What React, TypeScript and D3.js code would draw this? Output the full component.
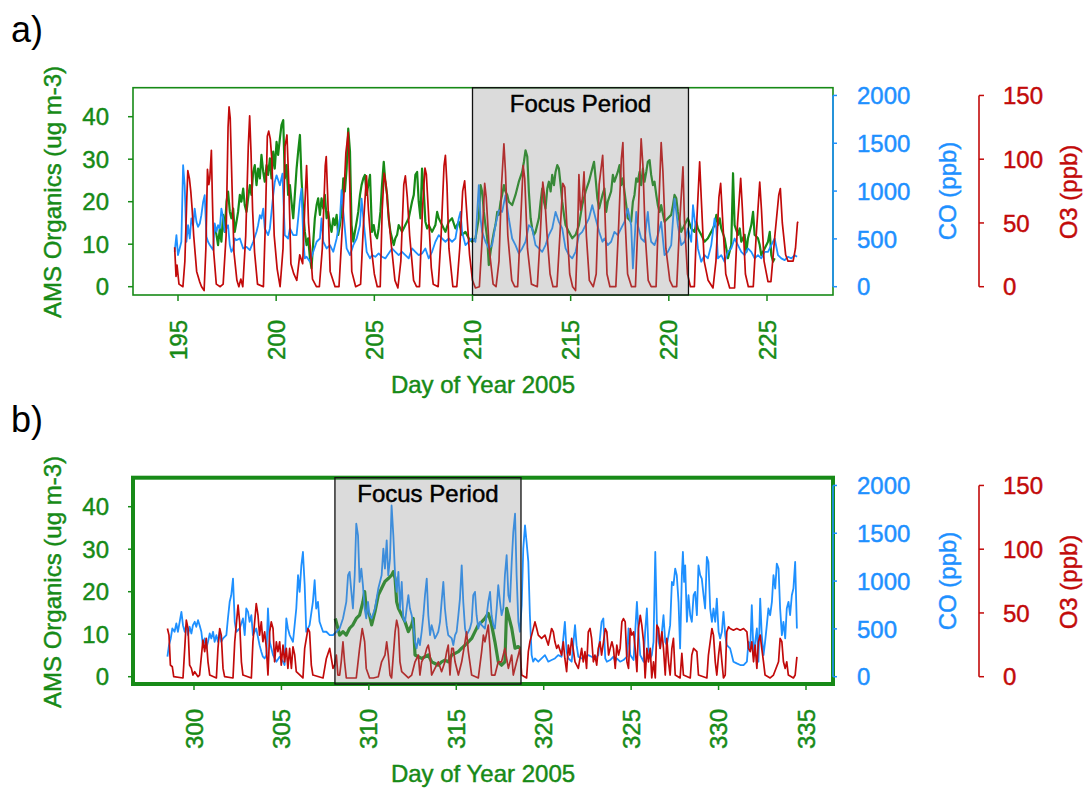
import React from "react";
import * as d3 from "d3";

type Pt = [number, number];

// ---- Summer campaign (panel a): day of year, value ----
const O3_SUMMER: Pt[] = [
  [194.83,31],[194.9,8],[194.95,17],[195.05,2],[195.25,0],[195.35,20],[195.45,70],[195.5,91],[195.58,85],[195.65,75],[195.72,61],[195.8,40],[195.95,12],[196.1,4],[196.2,0],[196.33,-3],[196.42,30],[196.5,92],[196.57,80],[196.62,85],[196.7,107],[196.75,70],[196.82,27],[196.95,2],[197.15,0],[197.3,2],[197.45,40],[197.55,125],[197.6,141],[197.66,132],[197.75,80],[197.85,27],[198.0,5],[198.1,0],[198.2,6],[198.3,0],[198.45,40],[198.58,110],[198.65,134],[198.72,105],[198.8,60],[198.9,27],[199.05,2],[199.35,0],[199.45,50],[199.55,118],[199.62,122],[199.7,116],[199.78,100],[199.9,40],[200.05,14],[200.2,0],[200.35,30],[200.45,110],[200.55,119],[200.65,78],[200.75,18],[200.9,10],[201.05,5],[201.2,25],[201.35,18],[201.45,60],[201.55,95],[201.65,50],[201.85,6],[202.05,0],[202.2,0],[202.35,30],[202.5,95],[202.55,102],[202.65,60],[202.75,12],[203.0,0],[203.2,0],[203.4,55],[203.55,105],[203.67,121],[203.75,80],[203.85,12],[204.05,0],[204.3,2],[204.45,50],[204.6,87],[204.7,60],[204.85,30],[205.0,10],[205.15,0],[205.3,0],[205.4,60],[205.5,89],[205.6,80],[205.7,60],[205.85,35],[206.05,5],[206.2,-1],[206.35,20],[206.5,80],[206.58,87],[206.68,70],[206.8,40],[207.0,5],[207.15,0],[207.3,0],[207.45,60],[207.58,93],[207.65,88],[207.75,60],[207.9,15],[208.0,2],[208.25,0],[208.4,40],[208.55,95],[208.62,103],[208.7,80],[208.8,30],[209.0,0],[209.2,0],[209.35,30],[209.5,75],[209.6,83],[209.7,60],[209.85,25],[210.0,5],[210.15,-1],[210.35,0],[210.5,40],[210.62,81],[210.7,70],[210.85,30],[211.05,2],[211.2,0],[211.35,20],[211.48,80],[211.6,112],[211.68,90],[211.8,40],[212.0,5],[212.15,0],[212.3,0],[212.45,50],[212.58,95],[212.66,85],[212.8,30],[213.0,2],[213.3,0],[213.45,40],[213.58,82],[213.68,70],[213.8,40],[213.95,10],[214.1,0],[214.3,0],[214.45,40],[214.6,81],[214.7,78],[214.8,50],[214.95,10],[215.1,0],[215.25,-3],[215.35,40],[215.42,88],[215.5,60],[215.6,70],[215.68,90],[215.8,40],[215.95,5],[216.15,0],[216.3,10],[216.45,80],[216.63,103],[216.72,70],[216.85,10],[217.0,0],[217.3,0],[217.45,50],[217.58,100],[217.66,113],[217.75,60],[217.9,10],[218.1,0],[218.3,0],[218.45,60],[218.59,116],[218.68,95],[218.8,40],[218.95,5],[219.1,0],[219.35,0],[219.48,60],[219.61,113],[219.7,90],[219.85,30],[220.05,5],[220.2,0],[220.4,0],[220.55,50],[220.72,94],[220.8,50],[220.95,10],[221.1,0],[221.3,0],[221.42,50],[221.57,98],[221.65,70],[221.8,20],[222.0,5],[222.25,-1],[222.4,20],[222.55,70],[222.64,81],[222.75,50],[222.9,10],[223.1,-1],[223.35,-1],[223.5,50],[223.66,85],[223.75,60],[223.9,10],[224.05,0],[224.3,0],[224.45,40],[224.63,82],[224.72,60],[224.85,20],[225.05,4],[225.2,4],[225.4,40],[225.6,72],[225.68,77],[225.78,50],[225.95,25],[226.07,20],[226.33,20],[226.45,30],[226.55,50],[226.58,51]
];

const CO_SUMMER: Pt[] = [
  [194.83,365],[194.92,539],[195.0,330],[195.17,470],[195.26,1270],[195.34,1060],[195.43,470],[195.51,643],[195.6,504],[195.68,713],[195.77,643],[195.85,817],[195.94,678],[196.02,626],[196.11,661],[196.19,748],[196.28,887],[196.36,957],[196.45,522],[196.53,470],[196.62,435],[196.79,383],[196.87,661],[196.96,574],[197.04,643],[197.13,609],[197.21,817],[197.3,713],[197.38,574],[197.55,643],[197.64,435],[197.72,365],[197.81,400],[197.89,504],[197.98,487],[198.15,504],[198.32,400],[198.49,417],[198.66,383],[198.83,470],[199.0,574],[199.08,643],[199.17,748],[199.25,713],[199.34,817],[199.42,609],[199.51,574],[199.59,539],[199.68,609],[199.85,957],[199.93,1096],[200.02,1165],[200.19,1061],[200.32,1183],[200.44,539],[200.61,504],[200.7,609],[200.87,539],[201.04,539],[201.21,904],[201.29,1026],[201.38,504],[201.46,296],[201.55,313],[201.72,261],[201.89,365],[202.06,470],[202.23,504],[202.31,713],[202.4,470],[202.57,400],[202.74,435],[202.91,365],[203.08,504],[203.25,713],[203.33,1009],[203.42,783],[203.59,400],[203.76,330],[203.93,435],[204.1,504],[204.27,643],[204.35,922],[204.44,713],[204.61,365],[204.78,296],
  [204.88,330],[205.05,313],[205.22,348],[205.39,313],[205.56,296],[205.73,348],[205.9,400],[206.07,365],[206.24,330],[206.41,365],[206.58,330],[206.75,296],[206.92,400],[207.09,365],[207.26,330],[207.43,348],[207.6,400],[207.77,296],[207.94,365],[208.11,470],[208.28,539],[208.45,504],[208.62,470],[208.79,504],[208.96,470],[209.13,504],[209.3,713],[209.39,783],[209.47,574],[209.64,435],[209.81,470],[209.98,504],[210.15,470],[210.32,1061],[210.41,713],[210.49,574],[210.66,470],[210.83,400],[211.0,435],[211.17,643],[211.34,800],[211.51,783],[211.68,957],[211.85,713],[212.02,504],[212.19,435],[212.36,348],[212.53,400],[212.7,470],[212.87,643],[213.04,609],[213.21,435],[213.38,400],[213.55,365],[213.72,435],[213.89,539],[214.06,609],[214.23,783],[214.4,678],[214.57,609],[214.74,400],[214.91,330],[215.08,296],[215.25,365],[215.42,539],[215.59,574],[215.76,643],[215.93,713],[216.1,852],[216.27,713],[216.45,574],[216.62,470],
  [216.72,504],[216.89,435],[217.06,470],[217.23,574],[217.4,539],[217.57,609],[217.74,678],[217.91,817],[218.08,643],[218.17,191],[218.25,470],[218.34,783],[218.42,643],[218.59,504],[218.76,470],[218.85,643],[218.93,783],[219.02,574],[219.1,470],[219.27,435],[219.44,539],[219.61,678],[219.78,330],[219.95,365],[220.12,435],[220.29,922],[220.38,783],[220.46,643],[220.63,435],[220.8,470],[220.97,609],[221.14,470],[221.23,852],[221.31,713],[221.4,574],[221.48,400],[221.65,261],[221.82,330],[221.99,296],[222.16,435],[222.33,713],[222.42,609],[222.5,296],[222.67,330],[222.84,261],[223.01,365],[223.18,400],[223.35,504],[223.52,435],[223.69,365],[223.86,330],[224.03,400],[224.2,365],[224.37,296],[224.54,330],[224.71,296],[224.88,365],[225.05,365],[225.22,435],[225.39,504],[225.56,330],[225.73,296],[225.9,278],[226.07,313],[226.24,296],[226.41,330],[226.53,313]
];

const ORG_SUMMER: Pt[] = [
  [196.87,14.5],[196.96,12.2],[197.04,9.8],[197.13,13.7],[197.21,10.6],[197.3,16.9],[197.38,12.9],[197.47,20.0],[197.55,22.4],[197.64,17.6],[197.72,16.1],[197.81,18.4],[197.89,12.9],[197.98,15.3],[198.06,17.6],[198.15,21.6],[198.23,20.0],[198.32,23.1],[198.4,19.2],[198.49,17.6],[198.57,20.8],[198.66,23.9],[198.74,21.6],[198.83,27.0],[198.91,28.6],[199.0,23.9],[199.08,27.8],[199.17,25.5],[199.25,31.0],[199.34,27.0],[199.42,24.7],[199.51,28.6],[199.59,26.3],[199.68,30.2],[199.76,25.5],[199.85,31.8],[199.93,27.8],[200.02,34.1],[200.1,31.0],[200.19,34.9],[200.27,38.0],[200.36,39.2],[200.44,25.5],[200.53,28.6],[200.61,21.6],[200.7,23.9],[200.78,20.0],[200.87,16.1],[200.95,21.6],[201.04,27.8],[201.12,31.8],[201.21,35.7],[201.29,25.5],[201.38,17.6],[201.46,12.9],[201.55,9.8],[201.63,11.4],[201.72,6.7],[201.8,4.3],[201.89,10.6],[201.97,16.1],[202.06,19.2],[202.14,20.8],[202.23,16.9],[202.31,20.8],[202.4,18.4],[202.48,21.6],[202.57,16.1],[202.65,17.6],[202.74,14.5],[202.82,12.9],[202.91,16.1],[202.99,14.5],[203.08,16.9],[203.16,12.2],[203.25,14.5],[203.33,17.6],[203.42,25.5],[203.5,22.4],[203.59,27.8],[203.67,37.2],[203.76,31.8],[203.84,14.5],[203.93,10.6],[204.01,12.9],[204.1,15.3],[204.18,17.6],[204.27,21.6],[204.35,23.9],[204.44,25.5],[204.52,26.3],[204.61,21.6],[204.69,23.9],[204.78,26.3],
  [204.88,12.9],[204.97,14.5],[205.05,12.2],[205.14,11.4],[205.22,13.7],[205.31,17.6],[205.39,23.9],[205.48,29.4],[205.56,24.7],[205.65,21.6],[205.73,16.1],[205.82,12.9],[205.9,11.4],[205.99,9.8],[206.07,11.4],[206.16,12.2],[206.24,14.5],[206.41,12.9],[206.58,14.5],[206.75,16.1],[206.92,20.0],[207.01,21.6],[207.09,26.3],[207.18,27.0],[207.26,20.0],[207.35,16.1],[207.43,27.8],[207.52,22.4],[207.6,15.3],[207.69,13.7],[207.77,14.5],[207.94,12.9],[208.11,14.5],[208.2,17.6],[208.28,16.1],[208.45,14.5],[208.62,12.9],[208.79,15.3],[208.96,16.1],[209.13,13.7],[209.3,15.3],[209.47,12.2],[209.64,12.9],[209.81,11.4],[209.98,10.6],[210.15,11.4],[210.32,16.1],[210.41,23.9],[210.49,22.4],[210.58,17.6],[210.66,14.5],[210.75,11.4],[210.83,5.1],[210.92,8.2],[211.0,10.6],[211.09,12.9],[211.17,14.5],[211.26,17.6],[211.34,16.9],[211.43,20.0],[211.51,21.6],[211.6,23.9],[211.68,22.4],[211.77,21.6],[211.85,20.0],[212.02,19.2],[212.19,21.6],[212.36,24.7],[212.53,27.0],[212.62,29.4],[212.7,32.1],[212.79,30.6],[212.87,22.4],[212.96,16.1],[213.04,13.7],[213.13,12.2],[213.21,12.9],[213.38,16.1],[213.47,20.0],[213.55,23.1],[213.64,20.0],[213.72,18.4],[213.81,23.1],[213.89,24.7],[213.98,22.4],[214.06,26.3],[214.15,23.9],[214.23,27.0],[214.32,28.6],[214.4,27.8],[214.49,23.9],[214.57,20.0],[214.66,16.9],[214.74,14.5],[214.91,12.9],[215.08,11.4],[215.25,12.2],[215.42,14.5],[215.59,19.2],[215.76,22.4],[215.93,24.7],[216.1,27.8],[216.19,29.4],[216.27,25.5],[216.36,20.8],[216.45,18.4],[216.62,21.6],
  [216.72,23.1],[216.81,17.6],[216.89,20.0],[217.06,22.4],[217.15,26.3],[217.23,24.7],[217.4,27.0],[217.49,28.6],[217.57,23.9],[217.66,25.5],[217.74,22.4],[217.83,19.2],[217.91,16.1],[218.08,15.3],[218.17,20.0],[218.25,21.6],[218.34,25.5],[218.42,24.7],[218.51,27.0],[218.59,23.9],[218.68,27.8],[218.76,24.7],[218.85,27.0],[218.93,29.4],[219.02,29.8],[219.1,26.3],[219.19,23.9],[219.27,24.7],[219.36,21.6],[219.44,19.2],[219.53,17.6],[219.61,19.2],[219.78,15.3],[219.95,16.1],[220.12,16.9],[220.21,19.2],[220.29,21.6],[220.38,20.8],[220.46,17.6],[220.63,12.9],[220.8,14.5],[220.97,16.1],[221.14,13.7],[221.31,12.9],[221.4,15.2],[221.48,13.7],[221.65,12.2],[221.82,10.6],[221.99,11.4],[222.16,12.9],[222.33,14.5],[222.42,16.9],[222.5,14.5],[222.59,16.1],[222.67,13.7],[222.84,11.4],[223.01,6.7],[223.18,9.8],[223.27,26.7],[223.35,14.5],[223.52,12.2],[223.61,13.7],[223.69,10.6],[223.86,12.2],[223.95,8.2],[224.03,11.4],[224.2,14.5],[224.29,17.6],[224.37,12.2],[224.54,11.4],[224.63,9.8],[224.71,7.4],[224.88,9.0],[225.05,10.6],[225.14,12.9],[225.22,7.4],[225.31,5.9],[225.39,6.7]
];

// ---- Autumn campaign (panel b) ----
const O3_AUTUMN: Pt[] = [
  [298.48,37.8],[298.57,32.6],[298.65,9.1],[298.76,7.8],[298.84,0],[299.37,-1],[299.47,22.2],[299.56,44.3],[299.66,37.8],[299.75,9.1],[299.85,6.5],[299.94,1.3],[300.04,3.9],[300.23,0],[300.32,1.3],[300.51,28.7],[300.61,19.6],[300.7,30.0],[300.8,11.7],[300.9,1.3],[301.28,-1],[301.37,22.2],[301.47,37.8],[301.56,32.6],[301.66,6.5],[301.75,0],[302.23,-1],[302.33,27.4],[302.52,56.1],[302.61,43.0],[302.71,11.7],[302.8,1.3],[303.28,-1],[303.37,27.4],[303.56,57.4],[303.66,48.2],[303.75,32.6],[303.85,43.0],[303.94,27.4],[304.04,35.2],[304.14,22.2],[304.23,1.3],[304.33,35.2],[304.42,43.0],[304.52,37.8],[304.61,11.7],[304.71,27.4],[304.8,19.6],[304.9,27.4],[304.99,9.1],[305.09,24.8],[305.18,11.7],[305.28,22.2],[305.37,6.5],[305.47,22.2],[305.57,6.5],[305.66,23.5],[305.76,17.0],[305.85,3.9],[306.23,-1],[306.33,22.2],[306.52,37.8],[306.61,35.2],[306.71,9.1],[306.8,1.3],[307.38,-1],[307.57,14.3],[307.76,22.2],[307.95,6.5],[308.04,9.1],[308.14,17.0],[308.23,1.3],[308.33,1.3],[308.42,11.7],[308.52,27.4],[308.61,11.7],[308.71,-1],[309.28,-1],[309.47,22.2],[309.62,37.8],[309.76,27.4],[309.85,6.5],[310.04,-1],
  [310.26,-1],[310.54,0],[310.73,11.7],[310.92,17.0],[311.02,27.4],[311.11,17.0],[311.21,1.3],[311.3,-1],[311.5,35.2],[311.59,44.3],[311.69,37.8],[311.78,11.7],[311.88,3.9],[312.26,-1],[312.45,1.3],[312.64,11.7],[312.83,17.0],[312.92,1.3],[313.02,11.7],[313.21,17.0],[313.31,22.2],[313.4,24.8],[313.5,17.0],[313.59,1.3],[313.78,6.5],[313.97,11.7],[314.16,3.9],[314.35,11.7],[314.45,19.6],[314.54,24.8],[314.64,1.3],[314.74,22.2],[314.83,22.2],[314.93,11.7],[315.12,1.3],[315.31,11.7],[315.5,27.4],[315.59,35.2],[315.69,19.6],[315.88,1.3],[316.26,-1],[316.45,19.6],[316.55,32.6],[316.64,27.4],[316.83,40.4],[316.93,22.2],[317.02,1.3],[317.21,1.3],[317.4,11.7],[317.59,11.7],[317.78,22.2],[317.98,6.5],[318.17,17.0],[318.26,1.3],[318.45,11.7],[318.55,17.0],[318.64,22.2],[318.74,1.3],[319.02,-1],[319.12,19.6],[319.21,27.4],[319.31,32.6],[319.5,43.0],[319.6,37.8],[319.69,32.6],[319.88,30.0],[320.07,32.6],[320.26,24.8],[320.45,37.8],[320.55,35.2],[320.64,27.4],[320.74,22.2],[320.83,24.8],[321.02,17.0],[321.12,27.4],[321.21,14.3],[321.31,3.9],[321.41,24.8],[321.5,17.0],[321.6,30.0],[321.79,11.7],[321.98,6.5],[322.17,22.2],[322.26,11.7],[322.36,19.6],[322.45,6.5],[322.55,35.2],[322.65,37.8],[322.74,30.0],[322.84,11.7],[322.93,17.0],[323.03,9.1],[323.12,22.2],[323.22,27.4],[323.31,17.0],
  [323.42,27.4],[323.52,37.8],[323.61,35.2],[323.71,17.0],[323.8,22.2],[323.9,27.4],[323.99,22.2],[324.09,6.5],[324.18,24.8],[324.28,17.0],[324.37,22.2],[324.47,43.0],[324.56,45.6],[324.66,43.0],[324.76,11.7],[324.85,6.5],[324.95,37.8],[325.04,32.6],[325.14,35.2],[325.23,22.2],[325.33,3.9],[325.42,37.8],[325.52,48.2],[325.61,40.4],[325.71,27.4],[325.8,-1],[325.9,22.2],[325.99,11.7],[326.09,22.2],[326.18,-1],[326.28,11.7],[326.38,-1],[326.47,40.4],[326.57,37.8],[326.66,22.2],[326.76,35.2],[326.85,22.2],[326.95,1.3],[327.04,30.0],[327.14,11.7],[327.23,1.3],[327.33,22.2],[327.42,30.0],[327.52,1.3],[327.8,-1],[327.9,18.3],[327.99,1.3],[328.38,-1],[328.47,17.0],[328.57,22.2],[328.76,19.6],[328.85,1.3],[329.33,-1],[329.42,17.0],[329.62,37.8],[329.71,32.6],[329.81,11.7],[329.9,1.3],[330.0,17.0],[330.09,27.4],[330.19,11.7],[330.28,-1],[330.38,1.3],[330.47,35.2],[330.57,39.1],[330.66,37.8],[330.85,36.5],[331.04,37.8],[331.24,36.5],[331.43,37.8],[331.62,35.2],[331.71,22.2],[331.81,19.6],[331.9,27.4],[332.0,11.7],[332.09,24.8],[332.19,6.5],[332.28,27.4],[332.38,32.6],[332.47,22.2],[332.57,11.7],[332.66,1.3],[332.95,-1],[333.14,1.3],[333.43,11.7],[333.52,30.0],[333.62,27.4],[333.71,11.7],[333.81,6.5],[333.9,11.7],[333.99,1.3],[334.28,-1],[334.38,1.3],[334.48,15.6]
];

const CO_AUTUMN: Pt[] = [
  [298.48,209],[298.57,330],[298.67,400],[298.76,504],[298.89,470],[298.99,557],[299.08,470],[299.18,574],[299.28,678],[299.37,539],[299.47,470],[299.56,539],[299.66,435],[299.75,522],[299.85,452],[299.94,539],[300.04,574],[300.13,522],[300.23,591],[300.32,539],[300.42,470],[300.51,330],[300.61,400],[300.7,296],[300.8,365],[300.9,452],[300.99,400],[301.09,470],[301.18,365],[301.28,435],[301.37,365],[301.47,470],[301.56,365],[301.66,400],[301.85,435],[301.94,609],[302.04,783],[302.13,852],[302.23,1026],[302.33,574],[302.42,470],[302.61,504],[302.8,609],[302.9,435],[302.99,713],[303.09,678],[303.18,574],[303.28,643],[303.37,435],[303.56,504],[303.75,330],[303.85,261],[303.94,209],[304.04,191],[304.14,226],[304.23,713],[304.33,365],[304.52,226],[304.71,157],[304.9,209],[305.09,157],[305.18,122],[305.28,609],[305.37,504],[305.47,435],[305.66,365],[305.85,713],[305.95,1061],[306.04,887],[306.14,1165],[306.23,1304],[306.33,957],[306.42,470],[306.61,539],[306.8,783],[306.9,1009],[306.99,713],[307.09,783],[307.18,574],[307.38,470],[307.57,470],[307.76,435],[307.95,435],[308.14,470],[308.33,504],[308.52,609],[308.71,783],[308.81,1061],[308.9,1096],[309.0,887],[309.09,713],[309.19,1061],[309.28,1600],[309.38,1478],[309.47,991],[309.57,1130],[309.66,957],[309.76,713],[309.85,609],[309.95,783],[310.04,643],
  [310.16,609],[310.35,713],[310.54,922],[310.73,1061],[310.83,1339],[310.92,1130],[311.02,1426],[311.11,1061],[311.21,1235],[311.3,1791],[311.4,1478],[311.5,1061],[311.59,887],[311.69,1096],[311.78,713],[311.88,991],[311.97,609],[312.07,574],[312.16,713],[312.26,852],[312.35,713],[312.45,643],[312.54,539],[312.64,365],[312.73,296],[312.83,400],[312.92,330],[313.02,470],[313.12,643],[313.21,852],[313.31,1026],[313.4,643],[313.5,435],[313.59,539],[313.69,470],[313.78,400],[313.88,435],[313.97,470],[314.07,574],[314.16,783],[314.26,991],[314.35,713],[314.45,539],[314.54,435],[314.74,400],[314.83,330],[314.93,435],[315.02,470],[315.12,643],[315.21,817],[315.31,1165],[315.4,783],[315.5,504],[315.59,435],[315.69,470],[315.78,504],[315.88,574],[315.97,852],[316.07,887],[316.16,643],[316.26,504],[316.36,574],[316.45,539],[316.64,504],[316.74,643],[316.83,783],[316.93,887],[317.02,643],[317.12,539],[317.21,504],[317.31,713],[317.4,957],[317.5,783],[317.59,643],[317.69,713],[317.78,1061],[317.88,1270],[317.98,852],[318.07,783],[318.17,1200],[318.26,1513],[318.36,1704],[318.45,1061],[318.55,574],[318.64,470],[318.74,748],[318.83,1339],[318.93,1583],[319.02,1409],[319.12,1200],[319.21,643],[319.31,226],[319.4,157],[319.5,191],[319.69,157],[319.88,191],[320.07,226],[320.26,157],[320.45,174],[320.64,191],[320.83,226],[321.02,209],[321.21,574],[321.31,261],[321.41,191],[321.6,157],[321.79,539],[321.88,330],[321.98,209],[322.17,191],[322.36,209],[322.55,226],[322.74,209],[322.93,191],[323.12,226],[323.31,574],[323.41,609],
  [323.52,191],[323.61,157],[323.8,174],[323.99,209],[324.09,157],[324.18,191],[324.37,157],[324.56,174],[324.76,209],[324.85,504],[324.95,226],[325.14,174],[325.33,783],[325.42,470],[325.52,226],[325.71,157],[325.8,470],[325.9,713],[325.99,296],[326.09,191],[326.18,226],[326.28,365],[326.38,1304],[326.47,574],[326.57,365],[326.66,296],[326.76,470],[326.85,643],[326.95,365],[327.04,330],[327.14,435],[327.23,539],[327.33,991],[327.42,957],[327.52,1130],[327.61,1061],[327.71,783],[327.8,296],[327.9,1061],[327.96,1304],[328.03,991],[328.09,1165],[328.19,574],[328.28,852],[328.38,643],[328.47,574],[328.57,852],[328.66,887],[328.76,643],[328.85,1165],[328.95,1061],[329.04,1026],[329.14,852],[329.23,713],[329.33,1252],[329.42,1200],[329.52,713],[329.62,574],[329.71,713],[329.81,574],[329.9,817],[330.0,470],[330.09,400],[330.19,470],[330.28,678],[330.38,435],[330.47,330],[330.66,296],[330.85,157],[331.04,139],[331.24,122],[331.43,122],[331.62,157],[331.71,365],[331.81,296],[331.9,748],[332.0,226],[332.19,504],[332.28,157],[332.38,817],[332.47,435],[332.57,226],[332.66,365],[332.76,539],[332.85,713],[332.95,643],[333.05,783],[333.14,1061],[333.24,922],[333.33,1183],[333.43,1130],[333.52,713],[333.62,435],[333.71,574],[333.81,400],[333.9,713],[334.0,783],[334.09,643],[334.19,852],[334.28,922],[334.38,1200],[334.48,504]
];

const ORG_AUTUMN: Pt[] = [
  [308.08,13.7],[308.23,11.4],[308.33,9.8],[308.52,10.6],[308.71,9.8],[308.9,11.4],[309.09,12.2],[309.28,13.7],[309.47,14.5],[309.66,17.6],[309.76,20.0],[309.85,16.1],[310.04,14.5],[310.16,12.2],[310.35,15.3],[310.54,19.2],[310.73,20.8],[310.92,22.4],[311.11,23.1],[311.3,23.9],[311.4,24.7],[311.5,23.1],[311.59,17.6],[311.69,16.1],[311.88,14.5],[312.07,12.9],[312.26,10.6],[312.45,12.2],[312.54,13.7],[312.64,5.1],[312.83,4.7],[313.02,4.3],[313.21,4.7],[313.4,5.1],[313.59,3.5],[313.78,3.1],[313.97,2.7],[314.16,3.5],[314.35,3.9],[314.54,3.5],[314.74,5.1],[314.93,5.5],[315.12,5.9],[315.31,6.7],[315.5,7.4],[315.69,8.2],[315.88,9.0],[316.07,10.6],[316.26,12.2],[316.45,12.9],[316.64,13.7],[316.83,14.9],[317.02,12.2],[317.21,8.2],[317.4,3.5],[317.59,2.7],[317.78,3.5],[317.88,16.1],[317.98,14.5],[318.17,11.4],[318.36,6.7],[318.55,7.1],[318.64,6.7]
];

// ---- Axes ----
const X_TICKS_SUMMER = [195, 200, 205, 210, 215, 220, 225];
const X_TICKS_AUTUMN = [300, 305, 310, 315, 320, 325, 330, 335];
const ORG_TICKS = [0, 10, 20, 30, 40];
const CO_TICKS = [0, 500, 1000, 1500, 2000];
const O3_TICKS = [0, 50, 100, 150];
const FOCUS_SUMMER: [number, number] = [210, 221];
const FOCUS_AUTUMN: [number, number] = [308.06, 318.7];

const FONT = "'Liberation Sans', Arial, Helvetica, sans-serif";
const GREEN = "#178a17";
const BLUE = "#1e90ff";
const RED = "#c20a0a";

interface PanelProps {
  tag: string;
  offset: number;
  frameBottom: number;
  frameWidth: number;
  xDomain: [number, number];
  xRange: [number, number];
  xTicks: number[];
  focus: [number, number];
  org: Pt[];
  co: Pt[];
  o3: Pt[];
  orgWidth: number;
}

// Text with a hairline outline in its own colour, for slightly heavier glyphs.
function Label(props: React.SVGProps<SVGTextElement> & { color: string }) {
  const { color, ...rest } = props;
  return <text fill={color} stroke={color} strokeWidth={0.45} {...rest} />;
}

function Panel(p: PanelProps) {
  const left = 133;
  const right = 833;
  const top = 87.7 + p.offset;
  const bottom = p.frameBottom;
  const x = d3.scaleLinear().domain(p.xDomain).range(p.xRange);
  const yRange = [286.7 + p.offset, 95.45 + p.offset];
  const yOrg = d3.scaleLinear().domain([0, 45]).range(yRange);
  const yCO = d3.scaleLinear().domain([0, 2000]).range(yRange);
  const yO3 = d3.scaleLinear().domain([0, 150]).range(yRange);
  const path = (s: d3.ScaleLinear<number, number>) =>
    d3.line<Pt>().x((d) => x(d[0])).y((d) => s(d[1]));
  const fx0 = x(p.focus[0]);
  const fx1 = x(p.focus[1]);
  const fs = 24;

  return (
    <g fontFamily={FONT}>
      <text x={11} y={42 + p.offset} fontSize={36} fill="#000">{p.tag}</text>

      {/* series */}
      <path d={path(yOrg)(p.org) ?? ""} fill="none" stroke={GREEN} strokeWidth={p.orgWidth} strokeLinejoin="round" />
      <path d={path(yCO)(p.co) ?? ""} fill="none" stroke={BLUE} strokeWidth={1.8} strokeLinejoin="round" />
      <path d={path(yO3)(p.o3) ?? ""} fill="none" stroke={RED} strokeWidth={1.7} strokeLinejoin="round" />

      {/* plot frame */}
      <rect x={left} y={top} width={right - left} height={bottom - top} fill="none" stroke={GREEN} strokeWidth={p.frameWidth} />

      {/* focus period */}
      <rect x={fx0} y={top} width={fx1 - fx0} height={bottom - top} fill="#888" fillOpacity={0.3} stroke="none" />
      <rect x={fx0} y={top} width={fx1 - fx0} height={bottom - top} fill="none" stroke="#111" strokeWidth={1.3} />
      <Label color="#000" x={(fx0 + fx1) / 2} y={112 + p.offset} fontSize={fs} textAnchor="middle">Focus Period</Label>

      {/* left axis: organics */}
      {ORG_TICKS.map((t) => (
        <g key={"o" + t}>
          <line x1={left - 5} x2={left} y1={yOrg(t)} y2={yOrg(t)} stroke={GREEN} strokeWidth={1.5} />
          <Label color={GREEN} x={109} y={yOrg(t)} dy="0.36em" fontSize={fs} textAnchor="end">{t}</Label>
        </g>
      ))}
      <Label color={GREEN} transform={`translate(52.5,${192 + p.offset}) rotate(-90)`} dy="0.36em" fontSize={fs} textAnchor="middle">AMS Organics (ug m-3)</Label>

      {/* right axis: CO */}
      <line x1={right} x2={right} y1={yCO(0)} y2={yCO(2000)} stroke={BLUE} strokeWidth={1.6} />
      {CO_TICKS.map((t) => (
        <g key={"c" + t}>
          <line x1={right} x2={right + 4} y1={yCO(t)} y2={yCO(t)} stroke={BLUE} strokeWidth={1.5} />
          <Label color={BLUE} x={857} y={yCO(t)} dy="0.36em" fontSize={fs} textAnchor="start">{t}</Label>
        </g>
      ))}
      <Label color={BLUE} transform={`translate(947,${191 + p.offset}) rotate(-90)`} dy="0.36em" fontSize={fs} textAnchor="middle">CO (ppb)</Label>

      {/* outer right axis: O3 */}
      <line x1={979} x2={979} y1={yO3(0)} y2={yO3(150)} stroke={RED} strokeWidth={1.6} />
      {O3_TICKS.map((t) => (
        <g key={"r" + t}>
          <line x1={979} x2={984} y1={yO3(t)} y2={yO3(t)} stroke={RED} strokeWidth={1.5} />
          <Label color={RED} x={1003} y={yO3(t)} dy="0.36em" fontSize={fs} textAnchor="start">{t}</Label>
        </g>
      ))}
      <Label color={RED} transform={`translate(1068,${192 + p.offset}) rotate(-90)`} dy="0.36em" fontSize={fs} textAnchor="middle">O3 (ppb)</Label>

      {/* bottom axis: day of year */}
      {p.xTicks.map((t) => (
        <g key={"x" + t}>
          <line x1={x(t)} x2={x(t)} y1={bottom} y2={bottom + 6} stroke={GREEN} strokeWidth={1.5} />
          <Label color={GREEN} transform={`translate(${x(t)},${bottom + 25}) rotate(-90)`} dy="0.36em" fontSize={fs} textAnchor="end">{t}</Label>
        </g>
      ))}
      <Label color={GREEN} x={483} y={bottom + 89} dy="0.36em" fontSize={fs} textAnchor="middle">Day of Year 2005</Label>
    </g>
  );
}

export default function App() {
  return (
    <svg width={1085} height={788} style={{ position: "absolute", left: 0, top: 0, background: "#fff" }}>
      <rect width={1085} height={788} fill="#fff" />
      <Panel tag="a)" offset={0} frameBottom={295} frameWidth={1.6}
        xDomain={[195, 225]} xRange={[178, 767]} xTicks={X_TICKS_SUMMER} focus={FOCUS_SUMMER}
        org={ORG_SUMMER} co={CO_SUMMER} o3={O3_SUMMER} orgWidth={2.2} />
      <Panel tag="b)" offset={390} frameBottom={684} frameWidth={4}
        xDomain={[300, 335]} xRange={[194, 806]} xTicks={X_TICKS_AUTUMN} focus={FOCUS_AUTUMN}
        org={ORG_AUTUMN} co={CO_AUTUMN} o3={O3_AUTUMN} orgWidth={3.2} />
    </svg>
  );
}
